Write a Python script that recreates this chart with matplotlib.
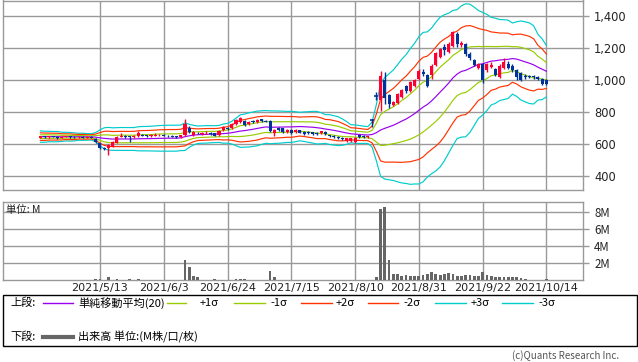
import numpy as np
import pandas as pd
import matplotlib
matplotlib.use("Agg")
import matplotlib.pyplot as plt
from matplotlib.lines import Line2D
from matplotlib.patches import Rectangle

plt.rcParams['font.family'] = ['Noto Sans CJK JP', 'DejaVu Sans']

# ---------------- data ----------------
holidays = ['2021-04-29', '2021-05-03', '2021-05-04', '2021-05-05',
            '2021-07-22', '2021-07-23', '2021-08-09', '2021-09-20', '2021-09-23']
dates = pd.bdate_range('2021-04-19', '2021-10-14', freq='C', holidays=holidays)

tick_dates = ['2021-05-13', '2021-06-03', '2021-06-24', '2021-07-15',
              '2021-08-10', '2021-08-31', '2021-09-22', '2021-10-14']

# closes of the 19 sessions before the window (needed for the 20-day bands)
prior_close = [660, 630, 655, 640, 668, 632, 650, 662, 628, 645,
               658, 636, 650, 664, 630, 648, 655, 638, 646]

opens = [640, 648, 644, 650, 646, 640, 646, 648, 644, 642,
         646, 640, 646, 632, 606, 578, 576, 585, 608, 646,
         650, 648, 644, 648, 660, 656, 650, 654, 656, 660,
         654, 652, 648, 644, 656, 698, 660, 672, 664, 668,
         672, 667, 656, 687, 704, 698, 725, 737, 746, 726,
         744, 738, 756, 748, 746, 667, 704, 700, 676, 687,
         676, 686, 677, 677, 673, 670, 667, 676, 656, 652,
         646, 640, 619, 622, 613, 656, 652, 644, 750, 900,
         875, 1000, 906, 848, 858, 896, 962, 935, 965, 1010,
         1050, 1035, 1031, 1094, 1146, 1208, 1180, 1215, 1290, 1220,
         1225, 1165, 1125, 1075, 1104, 1062, 1085, 1073, 1021, 1075,
         1104, 1090, 1062, 1045, 1030, 1028, 1025, 1020, 1010, 1000]
highs = [652, 652, 654, 654, 650, 650, 652, 650, 648, 650,
         648, 648, 650, 636, 610, 582, 598, 618, 650, 667,
         656, 652, 656, 681, 664, 660, 664, 668, 666, 664,
         660, 656, 652, 660, 756, 712, 684, 678, 676, 680,
         676, 670, 690, 712, 708, 730, 756, 768, 750, 746,
         750, 756, 760, 754, 750, 692, 708, 704, 692, 692,
         694, 690, 680, 682, 678, 674, 684, 680, 660, 656,
         650, 644, 640, 640, 642, 660, 656, 654, 760, 925,
         1060, 1052, 912, 870, 920, 948, 970, 996, 1010, 1070,
         1073, 1040, 1100, 1177, 1205, 1230, 1240, 1312, 1300, 1245,
         1232, 1177, 1132, 1110, 1110, 1110, 1112, 1080, 1100, 1140,
         1118, 1100, 1068, 1050, 1042, 1035, 1032, 1028, 1014, 1005]
lows = [636, 640, 640, 642, 632, 636, 642, 640, 638, 638,
        636, 636, 636, 606, 572, 566, 531, 580, 604, 642,
        640, 612, 640, 646, 648, 644, 646, 650, 650, 648,
        646, 642, 638, 640, 652, 670, 654, 662, 660, 664,
        660, 648, 652, 682, 688, 694, 720, 732, 714, 720,
        730, 732, 740, 736, 678, 650, 682, 672, 670, 666,
        672, 668, 660, 664, 660, 660, 662, 660, 644, 640,
        632, 628, 614, 616, 610, 640, 640, 640, 708, 875,
        810, 850, 825, 838, 850, 890, 920, 926, 955, 1000,
        1030, 955, 1010, 1090, 1140, 1160, 1170, 1208, 1210, 1210,
        1150, 1125, 1090, 1068, 980, 1055, 1080, 1028, 1015, 1070,
        1068, 1055, 1000, 995, 1010, 1012, 1010, 1000, 972, 972]
closes = [648, 644, 650, 646, 640, 646, 648, 644, 642, 646,
          640, 644, 640, 612, 578, 572, 594, 614, 646, 652,
          646, 644, 650, 671, 652, 650, 656, 658, 660, 652,
          650, 646, 642, 656, 725, 677, 677, 668, 670, 672,
          666, 652, 681, 706, 694, 725, 750, 762, 719, 740,
          736, 750, 744, 740, 683, 687, 687, 677, 687, 671,
          690, 672, 664, 670, 666, 664, 681, 664, 648, 644,
          636, 634, 636, 636, 638, 646, 644, 650, 750, 900,
          1025, 890, 850, 866, 915, 940, 930, 990, 1000, 1060,
          1040, 965, 1090, 1170, 1198, 1190, 1225, 1302, 1230, 1235,
          1165, 1140, 1098, 1102, 1000, 1104, 1096, 1035, 1092, 1115,
          1075, 1062, 1021, 1000, 1021, 1021, 1018, 1010, 979, 979]

# volume in millions of shares
volume_m = [0.05] * 120
for i, v in {13: 0.15, 14: 0.15, 16: 0.3, 18: 0.15, 21: 0.15, 23: 0.15,
             34: 2.4, 35: 1.55, 36: 0.45, 37: 0.3, 41: 0.15, 46: 0.15,
             47: 0.15, 48: 0.15, 54: 1.1, 55: 0.3,
             79: 0.4, 80: 8.4, 81: 8.6, 82: 2.4, 83: 0.7, 84: 0.7, 85: 0.5,
             86: 0.6, 87: 0.5, 88: 0.5, 89: 0.5, 90: 0.6, 91: 0.7, 92: 0.9,
             93: 0.75, 94: 0.6, 95: 0.7, 96: 0.8, 97: 0.65, 98: 0.5, 99: 0.5,
             100: 0.55, 101: 0.6, 102: 0.5, 103: 0.5, 104: 0.9, 105: 0.6,
             106: 0.45, 107: 0.35, 108: 0.3, 109: 0.3, 110: 0.3, 111: 0.3,
             112: 0.3, 113: 0.25, 114: 0.15, 119: 0.15}.items():
    volume_m[i] = v

# ---------------- derived bands ----------------
n = len(closes)
s = pd.Series(prior_close + closes, dtype=float)
ma = s.rolling(20).mean().to_numpy()[-n:]
sd = s.rolling(20).std(ddof=0).to_numpy()[-n:]
x = np.arange(n)

UP = '#ff0033'
DOWN = '#003399'
GRID = '#999999'
band_styles = [(3, '#00cccc'), (2, '#ff3300'), (1, '#99cc00')]

W, H = 638, 362
fig = plt.figure(figsize=(W / 100, H / 100), dpi=100)


def fx(px):
    return px / W


def fy(py):
    return 1 - py / H


ax = fig.add_axes([fx(3), fy(190), fx(583) - fx(3), fy(0.5) - fy(190)])
axv = fig.add_axes([fx(3), fy(280), fx(583) - fx(3), fy(202) - fy(280)], sharex=ax)

tick_idx = [list(dates.strftime('%Y-%m-%d')).index(d) for d in tick_dates]
tick_lab = [f"{pd.Timestamp(d).year}/{pd.Timestamp(d).month}/{pd.Timestamp(d).day}" for d in tick_dates]

for a in (ax, axv):
    a.set_xlim(-8.8, 127.6)
    a.set_xticks(tick_idx)
    a.grid(True, color=GRID, linewidth=1.0)
    a.set_axisbelow(True)
    for sp in a.spines.values():
        sp.set_color(GRID)
        sp.set_linewidth(1.0)
    a.yaxis.tick_right()
    a.tick_params(axis='y', colors=GRID, length=4, width=1, labelcolor='#222222',
                  labelsize=8.3, pad=4)
    a.tick_params(axis='x', length=0)

# bands
for k, col in band_styles:
    ax.plot(x, ma + k * sd, color=col, lw=0.85, zorder=2)
    ax.plot(x, ma - k * sd, color=col, lw=0.85, zorder=2)
ax.plot(x, ma, color='#9900ee', lw=0.85, zorder=2)

# candles
for i in range(n):
    o, h, l, c = opens[i], highs[i], lows[i], closes[i]
    col = UP if c > o else DOWN
    ax.vlines(i, l, h, color=col, lw=1.0, zorder=3)
    if abs(c - o) < 1:
        ax.hlines(c, i - 0.5, i + 0.5, color=col, lw=1.2, zorder=3)
    else:
        ax.bar(i, c - o, bottom=o, width=0.72, color=col, lw=0, zorder=3)

ax.set_ylim(312.5, 1500)
ax.set_yticks([400, 600, 800, 1000, 1200, 1400])
ax.set_yticklabels([f"{v:,}" for v in [400, 600, 800, 1000, 1200, 1400]],
                   family='DejaVu Sans')
ax.tick_params(axis='x', labelbottom=False)

# volume
axv.bar(x, volume_m, width=0.65, color='#666666', lw=0, zorder=3)
axv.set_ylim(0, 9.2)
axv.set_yticks([2, 4, 6, 8])
axv.set_yticklabels(['2M', '4M', '6M', '8M'])
axv.set_xticklabels(tick_lab, family='DejaVu Sans', fontsize=8, color='#222222')
axv.tick_params(axis='x', pad=2)
axv.text(0.005, 0.96, '単位: M', transform=axv.transAxes, ha='left', va='top',
         fontsize=7.5, color='#222222')

# legend box
fig.add_artist(Rectangle((fx(3), fy(346)), fx(637) - fx(3), fy(295) - fy(346),
                         transform=fig.transFigure, fill=False, ec='black', lw=1.0))
ly1, ly2 = fy(303), fy(337)
fs = 8
fig.text(fx(10), ly1, '上段:', fontsize=fs, va='center', ha='left')
fig.text(fx(10), ly2, '下段:', fontsize=fs, va='center', ha='left')
fig.add_artist(Line2D([fx(43), fx(73)], [ly1, ly1], color='#9900ee', lw=1.0,
                      transform=fig.transFigure))
fig.text(fx(78), ly1, '単純移動平均(20)', fontsize=fs, va='center', ha='left')
items = [(167, 186, 200, '+1σ', '#99cc00'), (234, 265, 270, '-1σ', '#99cc00'),
         (301, 332, 336, '+2σ', '#ff3300'), (368, 398, 403, '-2σ', '#ff3300'),
         (435, 466, 471, '+3σ', '#00cccc'), (502, 533, 538, '-3σ', '#00cccc')]
for x0, x1, tx, lab, col in items:
    fig.add_artist(Line2D([fx(x0), fx(x1)], [ly1, ly1], color=col, lw=1.0,
                          transform=fig.transFigure))
    fig.text(fx(tx), ly1, lab, fontsize=fs, va='center', ha='left')
fig.add_artist(Line2D([fx(43), fx(73)], [ly2, ly2], color='#666666', lw=3.0,
                      transform=fig.transFigure))
fig.text(fx(78), ly2, '出来高 単位:(M株/口/枚)', fontsize=fs, va='center', ha='left')
fig.text(fx(619), fy(356), '(c)Quants Research Inc.', fontsize=7, va='center',
         ha='right', color='#555555')

fig.savefig('out.png', dpi=100)
